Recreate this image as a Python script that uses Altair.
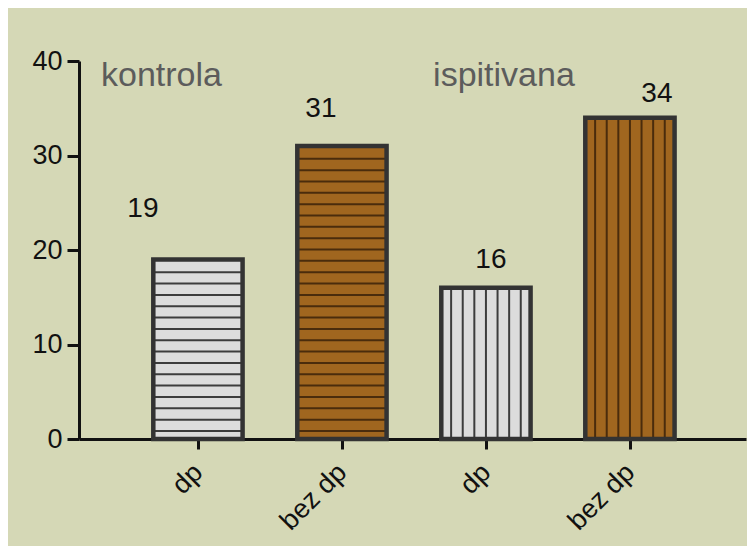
import altair as alt
import numpy as np
import pandas as pd

# ---- data ----
positions = [1, 2, 3, 4]
categories = ["dp", "bez dp", "dp", "bez dp"]
values = [19, 31, 16, 34]
kinds = ["kontrola dp", "kontrola bez dp", "ispitivana dp", "ispitivana bez dp"]
group_titles = ["kontrola", "ispitivana"]

# ---- styling ----
BG = "#d5d8b6"
FONT = "Liberation Sans"
fill_colors = ["#dcdcdc", "#a0661f", "#dcdcdc", "#a0661f"]
stripe_colors = ["#3c3c3c", "#4a2c0c", "#3c3c3c", "#4a2c0c"]
stripe_dir = ["h", "h", "v", "v"]
HALF = 0.31  # half bar width in x units

bars = pd.DataFrame({"pos": positions, "cat": categories, "value": values, "kind": kinds})

# decorative hatching lines (pattern, not data)
h_rows, v_rows = [], []
for p, v, d, k in zip(positions, values, stripe_dir, kinds):
    if d == "h":
        for yy in np.arange(0.85, v - 0.6, 1.2):
            h_rows.append({"pos": p, "y": float(yy), "kind": k})
    else:
        for j in range(-3, 4):
            v_rows.append({"x": p + j * 0.0806, "top": v, "kind": k})
hdf = pd.DataFrame(h_rows)
vdf = pd.DataFrame(v_rows)

xscale = alt.Scale(domain=[0.174, 4.806], nice=False, zero=False)
yscale = alt.Scale(domain=[0, 40], nice=False)

label_expr = "{1:'dp',2:'bez dp',3:'dp',4:'bez dp'}[datum.value]"

x_axis = alt.Axis(
    values=positions, labelExpr=label_expr, title=None, grid=False,
    labelAngle=-45, labelAlign="right", labelBaseline="middle",
    labelPadding=19, tickSize=10, labelFontSize=27,
)
y_axis = alt.Axis(
    values=[0, 10, 20, 30, 40], title=None, grid=False,
    labelPadding=5, tickSize=12, labelFontSize=27,
)

fill_scale = alt.Scale(domain=kinds, range=fill_colors)
stripe_scale = alt.Scale(domain=kinds, range=stripe_colors)

base = alt.Chart(bars).transform_calculate(
    x0=f"datum.pos - {HALF}", x1=f"datum.pos + {HALF}"
)

fill_layer = base.mark_rect(strokeWidth=0).encode(
    x=alt.X("x0:Q", scale=xscale, axis=x_axis),
    x2="x1:Q",
    y=alt.Y("value:Q", scale=yscale, axis=y_axis),
    y2=alt.datum(0),
    fill=alt.Fill("kind:N", scale=fill_scale, legend=None),
)

h_layer = alt.Chart(hdf).transform_calculate(
    x0=f"datum.pos - {HALF}", x1=f"datum.pos + {HALF}"
).mark_rule(strokeWidth=2).encode(
    x=alt.X("x0:Q", scale=xscale),
    x2="x1:Q",
    y=alt.Y("y:Q", scale=yscale),
    color=alt.Color("kind:N", scale=stripe_scale, legend=None),
)

v_layer = alt.Chart(vdf).mark_rule(strokeWidth=2).encode(
    x=alt.X("x:Q", scale=xscale),
    y=alt.Y("top:Q", scale=yscale),
    y2=alt.datum(0),
    color=alt.Color("kind:N", scale=stripe_scale, legend=None),
)

outline = base.mark_rect(fillOpacity=0, stroke="#333333", strokeWidth=4.5).encode(
    x=alt.X("x0:Q", scale=xscale),
    x2="x1:Q",
    y=alt.Y("value:Q", scale=yscale),
    y2=alt.datum(0),
)

# value labels with per-label annotation offsets (pixels)
label_dx = [-55, -21, 5, 27]
label_dy = [-50, -37, -28, -24]
value_labels = []
for i in range(len(values)):
    value_labels.append(
        alt.Chart(bars.iloc[[i]]).mark_text(
            fontSize=28, font=FONT, color="#111", dx=label_dx[i], dy=label_dy[i],
            baseline="middle", align="center",
        ).encode(
            x=alt.X("pos:Q", scale=xscale),
            y=alt.Y("value:Q", scale=yscale),
            text=alt.Text("value:Q"),
        )
    )

titles_df = pd.DataFrame({"t": group_titles, "x": [0.327, 2.633], "y": [37.35, 37.35]})
titles = alt.Chart(titles_df).mark_text(
    fontSize=34, font=FONT, color="#5c5c5c", align="left", baseline="alphabetic"
).encode(
    x=alt.X("x:Q", scale=xscale),
    y=alt.Y("y:Q", scale=yscale),
    text="t:N",
)

chart = alt.layer(fill_layer, h_layer, v_layer, outline, *value_labels, titles).properties(
    width=667, height=378,
    background=BG,
    padding={"left": 71, "top": 53, "right": 1, "bottom": 107},
    autosize=alt.AutoSizeParams(type="none"),
).configure_view(stroke=None).configure_axis(
    labelFont=FONT, labelColor="#111",
    tickWidth=3, tickColor="#111", domainColor="#111", domainWidth=3,
)

chart.save("out.html", embed_options={"renderer": "svg", "actions": False})
